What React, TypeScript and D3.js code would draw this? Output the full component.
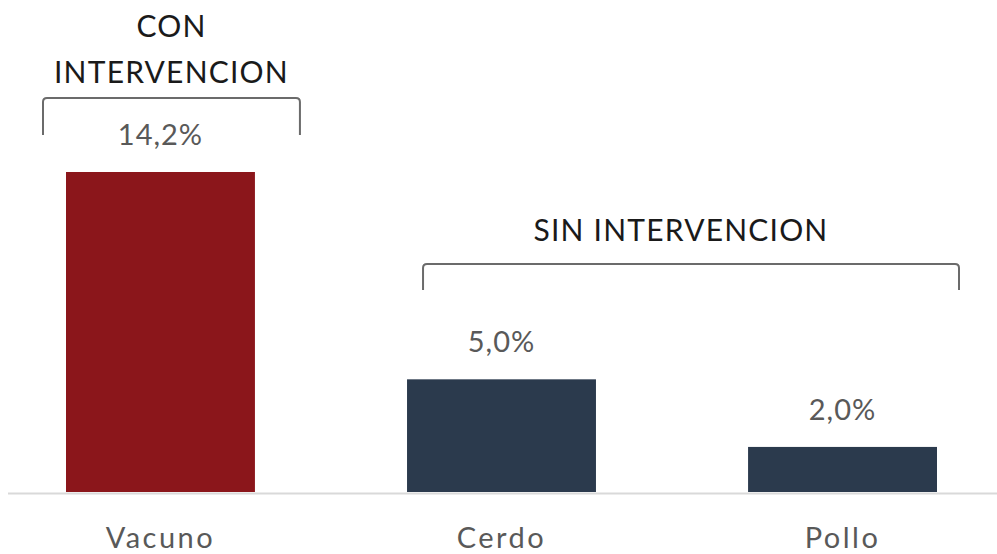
import React from 'react'
import { scaleBand, scaleLinear } from 'd3'

const categories = ['Vacuno', 'Cerdo', 'Pollo']
const values = [14.2, 5.0, 2.0]
const valueLabels = ['14,2%', '5,0%', '2,0%']
const groups = [
    { label: ['CON', 'INTERVENCION'], from: 'Vacuno', to: 'Vacuno' },
    { label: ['SIN INTERVENCION'], from: 'Cerdo', to: 'Pollo' },
]

const width = 997
const height = 554
const font = 'Lato, "Open Sans", sans-serif'
const textColor = '#595959'

function App() {
    const x = scaleBand<string>()
        .domain(categories)
        .range([66, 937])
        .paddingInner(0.446)
        .paddingOuter(0)

    const y = scaleLinear().domain([0, 14.2]).range([492, 172])

    const bw = x.bandwidth()
    const baseY = y(0)

    // bracket geometry per group
    const brackets = groups.map((g, i) => {
        const left = i === 0 ? (x(g.from) as number) - 23 : (x(g.from) as number) + 16
        const right = i === 0 ? (x(g.to) as number) + bw + 45 : (x(g.to) as number) + bw + 22
        const top = i === 0 ? 98 : 264
        const bottom = i === 0 ? 135 : 290
        return { ...g, left, right, top, bottom }
    })

    return (
        <svg
            width={width}
            height={height}
            style={{ position: 'absolute', left: 0, top: 0, background: '#fff' }}
            fontFamily={font}
        >
            <line x1={8} x2={width} y1={baseY + 1.5} y2={baseY + 1.5} stroke="#d9d9d9" strokeWidth={2} />

            {categories.map((c, i) => (
                <g key={c}>
                    <rect
                        x={x(c)}
                        y={y(values[i])}
                        width={bw}
                        height={baseY - y(values[i])}
                        fill={i === 0 ? '#8b161b' : '#2b3a4d'}
                    />
                    <text
                        x={(x(c) as number) + bw / 2}
                        y={y(values[i]) - 27}
                        textAnchor="middle"
                        fontSize={29}
                        letterSpacing={1}
                        fill={textColor}
                    >
                        {valueLabels[i]}
                    </text>
                    <text
                        x={(x(c) as number) + bw / 2}
                        y={548}
                        textAnchor="middle"
                        fontSize={29}
                        letterSpacing={2.5}
                        fill={textColor}
                    >
                        {c}
                    </text>
                </g>
            ))}

            {brackets.map((b, i) => {
                const r = 4
                const d = `M${b.left},${b.bottom} V${b.top + r} Q${b.left},${b.top} ${b.left + r},${b.top} H${b.right - r} Q${b.right},${b.top} ${b.right},${b.top + r} V${b.bottom}`
                const cx = (b.left + b.right) / 2
                return (
                    <g key={i}>
                        <path d={d} fill="none" stroke="#6b6b6b" strokeWidth={2} />
                        {b.label.map((t, j) => (
                            <text
                                key={t}
                                x={i === 0 ? cx : cx - 10}
                                y={i === 0 ? 37 + j * 46 : 241}
                                textAnchor="middle"
                                fontSize={30}
                                letterSpacing={1.2}
                                fill="#1a1a1a"
                            >
                                {t}
                            </text>
                        ))}
                    </g>
                )
            })}
        </svg>
    )
}

export default App
